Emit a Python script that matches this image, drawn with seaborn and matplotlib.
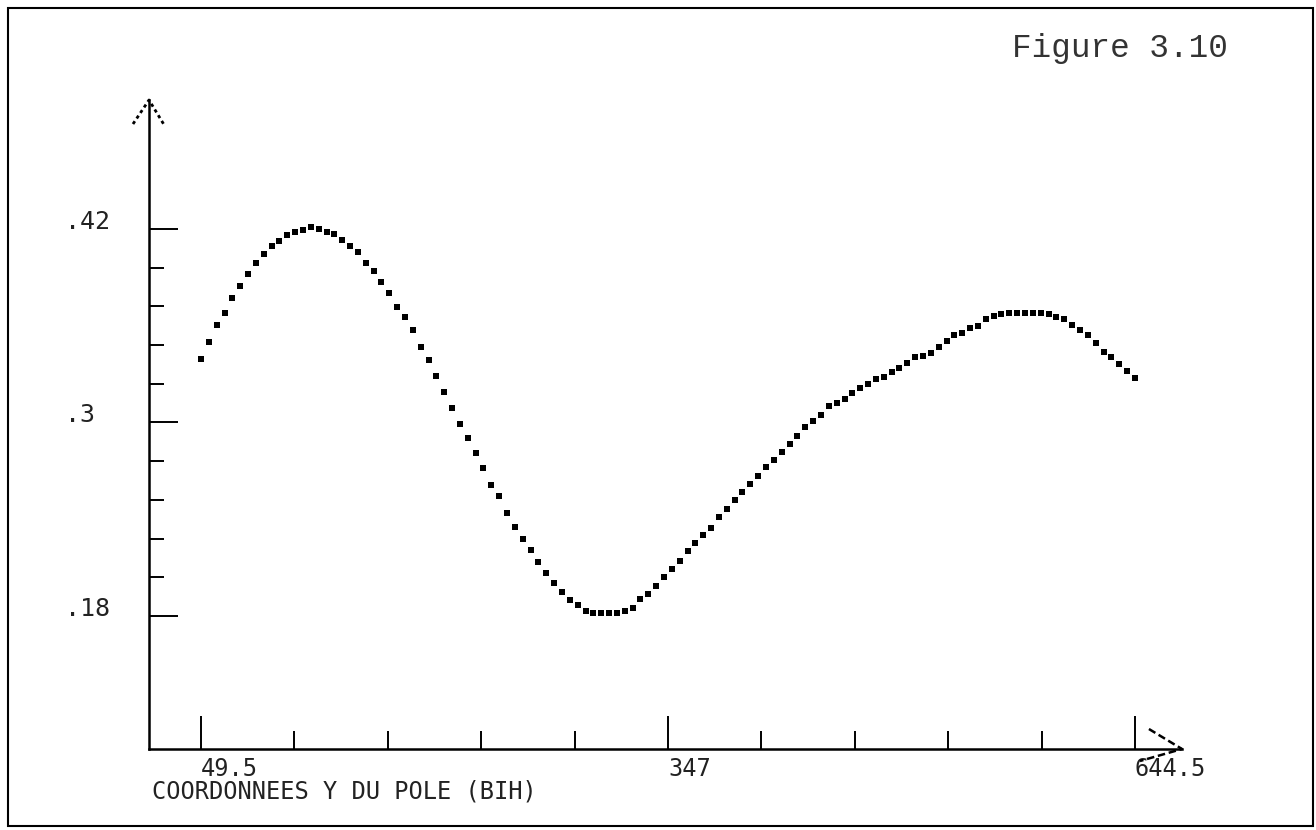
import matplotlib
matplotlib.use("Agg")
import matplotlib.pyplot as plt
from matplotlib.patches import Rectangle
import seaborn as sns
import pandas as pd

# pole Y coordinate (BIH) and the plotted quantity
pole_y = [
    49.5, 54.5, 59.5, 64.5, 69.5, 74.5, 79.5, 84.5, 89.5, 94.5, 99.5, 104.5,
    109.5, 114.5, 119.5, 124.5, 129.5, 134.5, 139.5, 144.5, 149.5, 154.5, 159.5, 164.5,
    169.5, 174.5, 179.5, 184.5, 189.5, 194.5, 199.5, 204.5, 209.5, 214.5, 219.5, 224.5,
    229.5, 234.5, 239.5, 244.5, 249.5, 254.5, 259.5, 264.5, 269.5, 274.5, 279.5, 284.5,
    289.5, 294.5, 299.5, 304.5, 309.5, 314.5, 319.5, 324.5, 329.5, 334.5, 339.5, 344.5,
    349.5, 354.5, 359.5, 364.5, 369.5, 374.5, 379.5, 384.5, 389.5, 394.5, 399.5, 404.5,
    409.5, 414.5, 419.5, 424.5, 429.5, 434.5, 439.5, 444.5, 449.5, 454.5, 459.5, 464.5,
    469.5, 474.5, 479.5, 484.5, 489.5, 494.5, 499.5, 504.5, 509.5, 514.5, 519.5, 524.5,
    529.5, 534.5, 539.5, 544.5, 549.5, 554.5, 559.5, 564.5, 569.5, 574.5, 579.5, 584.5,
    589.5, 594.5, 599.5, 604.5, 609.5, 614.5, 619.5, 624.5, 629.5, 634.5, 639.5, 644.5,
]
values = [
    0.3392, 0.3499, 0.3603, 0.3677, 0.3770, 0.3847, 0.3921, 0.3987, 0.4043, 0.4095, 0.4127, 0.4165,
    0.4180, 0.4194, 0.4214, 0.4198, 0.4183, 0.4167, 0.4132, 0.4095, 0.4059, 0.3991, 0.3938, 0.3871,
    0.3801, 0.3718, 0.3654, 0.3574, 0.3470, 0.3388, 0.3289, 0.3188, 0.3088, 0.2991, 0.2906, 0.2809,
    0.2716, 0.2611, 0.2546, 0.2441, 0.2354, 0.2278, 0.2210, 0.2135, 0.2069, 0.2003, 0.1949, 0.1900,
    0.1869, 0.1833, 0.1817, 0.1817, 0.1817, 0.1817, 0.1833, 0.1852, 0.1904, 0.1937, 0.1987, 0.2041,
    0.2090, 0.2142, 0.2205, 0.2251, 0.2303, 0.2344, 0.2416, 0.2466, 0.2520, 0.2571, 0.2619, 0.2670,
    0.2723, 0.2768, 0.2819, 0.2869, 0.2918, 0.2971, 0.3011, 0.3049, 0.3103, 0.3119, 0.3146, 0.3181,
    0.3212, 0.3237, 0.3268, 0.3281, 0.3315, 0.3336, 0.3371, 0.3405, 0.3413, 0.3433, 0.3470, 0.3507,
    0.3543, 0.3557, 0.3584, 0.3599, 0.3640, 0.3661, 0.3673, 0.3681, 0.3681, 0.3681, 0.3681, 0.3681,
    0.3673, 0.3656, 0.3642, 0.3605, 0.3574, 0.3543, 0.3491, 0.3436, 0.3405, 0.3361, 0.3321, 0.3274,
]

x_major = [49.5, 347, 644.5]
x_major_labels = ["49.5", "347", "644.5"]
x_minor = [109, 168.5, 228, 287.5, 406.5, 466, 525.5, 585]
y_major = [0.42, 0.30, 0.18]
y_major_labels = [".42", ".3", ".18"]
y_minor = [0.396, 0.372, 0.348, 0.324, 0.276, 0.252, 0.228, 0.204]

sns.set_theme(style="white")
plt.rcParams["font.family"] = ["DejaVu Sans Mono", "DejaVu Sans"]

df = pd.DataFrame({"x": pole_y, "y": values})

W, H = 1316, 830
fig = plt.figure(figsize=(W / 100, H / 100), dpi=100)
fig.patch.set_facecolor("white")

# axes box in pixels: y axis at x=149, x axis at y=749, arrow tips at 1182 / 100
ax = fig.add_axes([149 / W, (H - 749) / H, (1182 - 149) / W, (749 - 100) / H])
ax.set_facecolor("white")

sns.scatterplot(data=df, x="x", y="y", marker="s", s=18, color="black",
                linewidth=0, ax=ax, legend=False)

ax.set_xlim(16.4, 674.5)
ax.set_ylim(0.0975, 0.500)

for side in ["top", "right"]:
    ax.spines[side].set_visible(False)
for side in ["left", "bottom"]:
    ax.spines[side].set_linewidth(1.8)
    ax.spines[side].set_color("black")

ax.set_xticks(x_major, labels=x_major_labels)
ax.set_xticks(x_minor, minor=True)
ax.set_yticks(y_major, labels=y_major_labels)
ax.set_yticks(y_minor, minor=True)

ax.tick_params(axis="x", which="both", bottom=True, top=False)
ax.tick_params(axis="y", which="both", left=True, right=False)
ax.tick_params(axis="x", which="major", direction="in", length=24, width=1.4,
               pad=6, labelsize=17, colors="black", labelcolor="#222222")
ax.tick_params(axis="x", which="minor", direction="in", length=13, width=1.4,
               colors="black")
ax.tick_params(axis="y", which="major", direction="in", length=21, width=1.4,
               pad=60.5, labelsize=18, colors="black", labelcolor="#222222")
ax.tick_params(axis="y", which="minor", direction="in", length=11, width=1.4,
               colors="black")
plt.setp(ax.get_xticklabels(), ha="left")
plt.setp(ax.get_yticklabels(), ha="left", va="baseline")

ax.set_xlabel("")
ax.set_ylabel("")

# arrow heads drawn as plotter strokes
ax.plot([-0.0155, 0, 0.0145], [0.963, 1.0, 0.962], color="black", lw=2,
        linestyle=(0, (1.2, 1.2)), transform=ax.transAxes, clip_on=False)
ax.plot([0.968, 1.0, 0.9593], [0.0308, 0.0, -0.0185], color="black", lw=1.8,
        linestyle=(0, (3, 1.5)), transform=ax.transAxes, clip_on=False)

fig.text(152 / W, 1 - 779 / H, "COORDONNEES Y DU POLE (BIH)", fontsize=17,
         color="#222222", ha="left", va="top")
fig.text(1012 / W, 1 - 33 / H, "Figure 3.10", fontsize=23.5,
         family=["Liberation Mono", "DejaVu Sans Mono"], color="#333333",
         ha="left", va="top")

# page frame
fig.patches.append(Rectangle((8 / W, 4 / H), (1313 - 8) / W, (822 - 4) / H,
                             transform=fig.transFigure, fill=False,
                             edgecolor="black", linewidth=1.5))

fig.savefig("out.png", dpi=100)
